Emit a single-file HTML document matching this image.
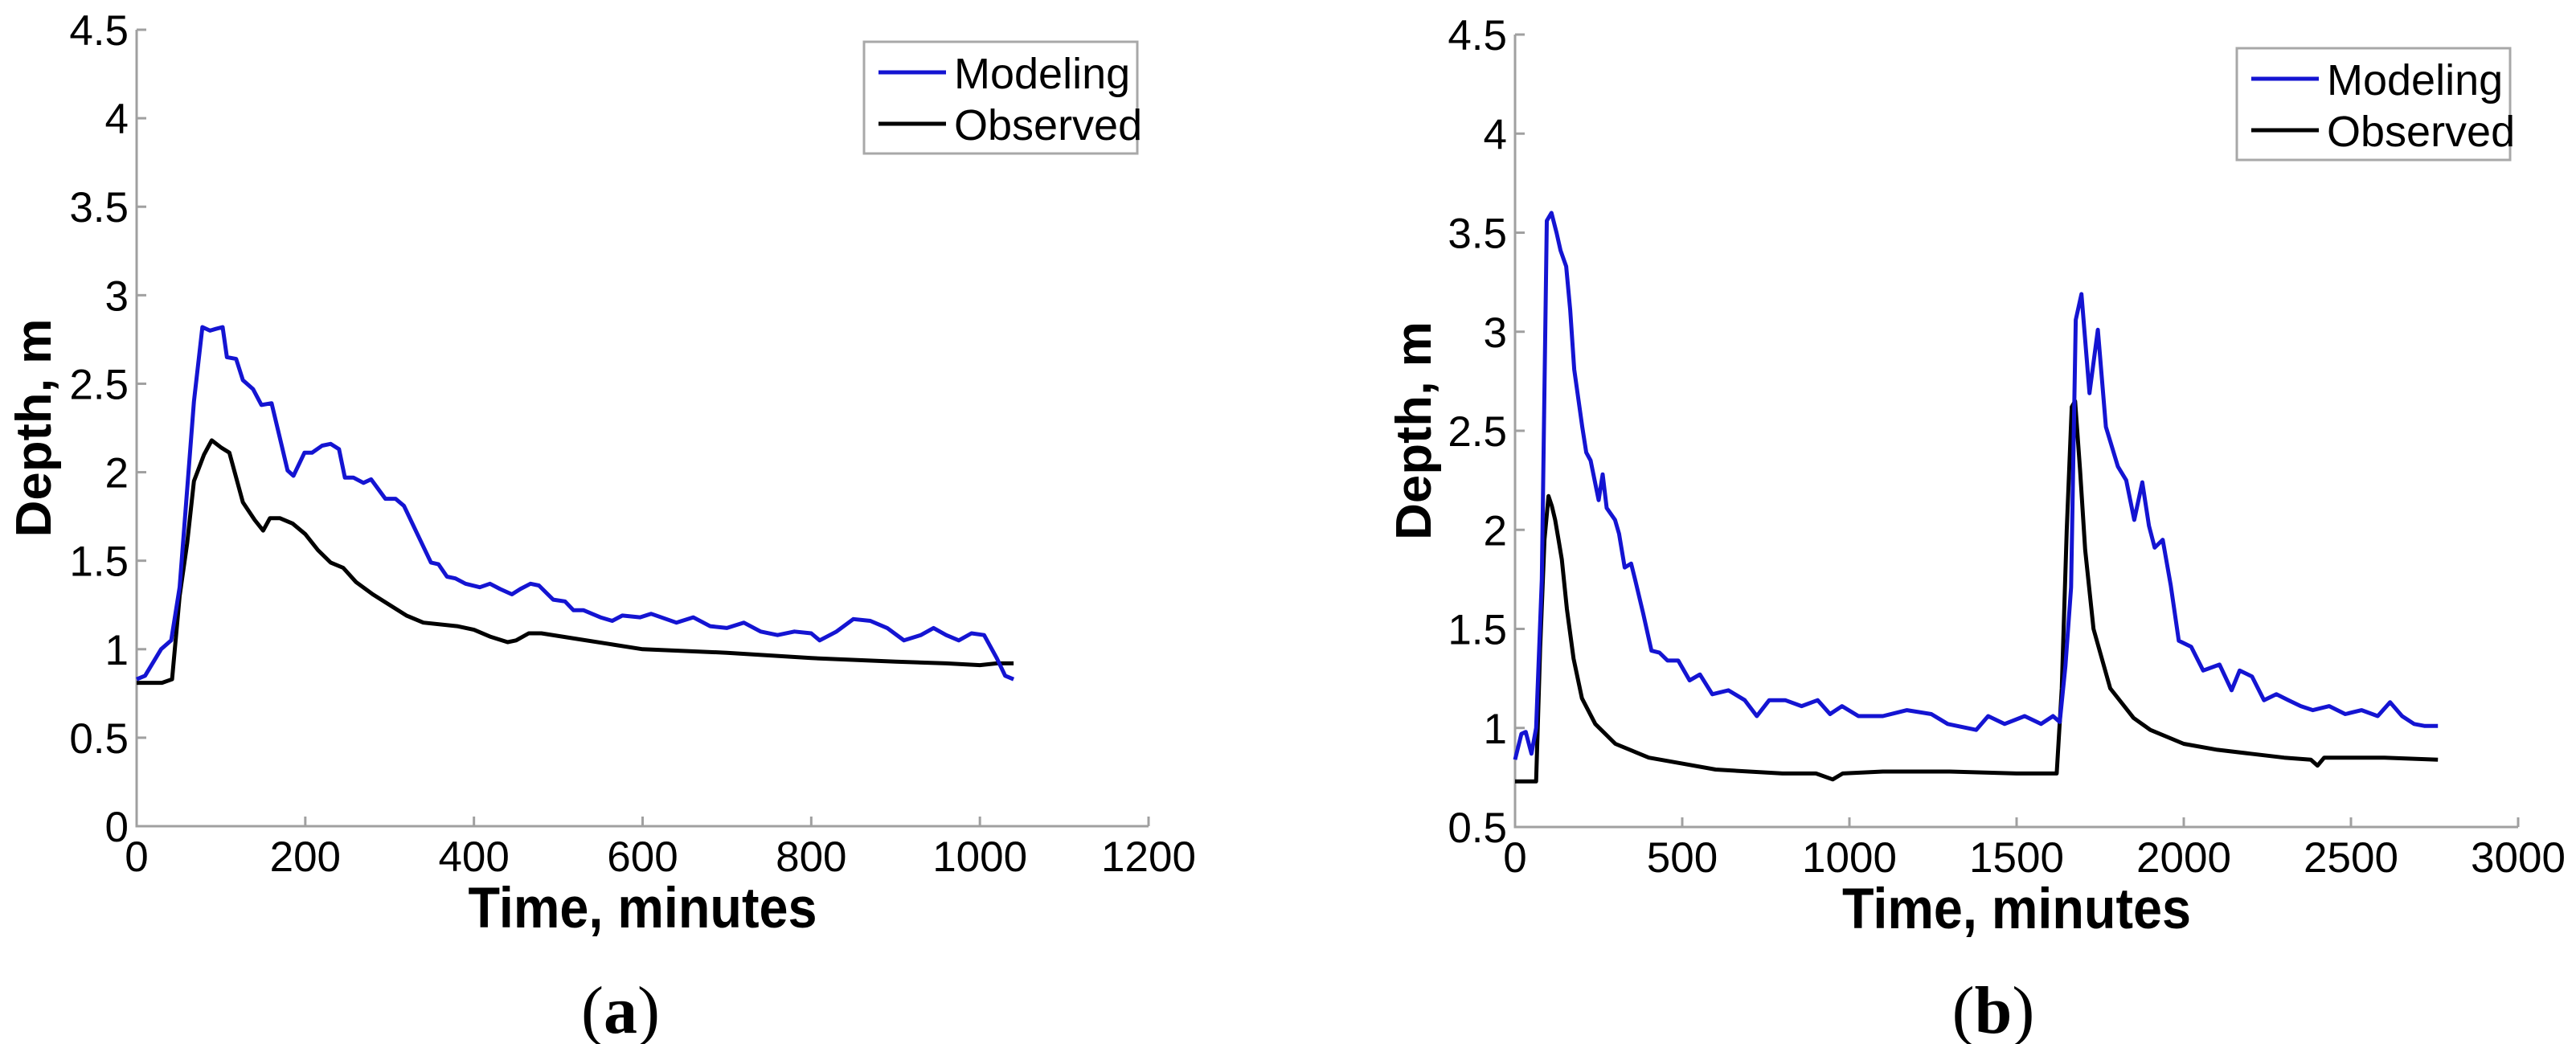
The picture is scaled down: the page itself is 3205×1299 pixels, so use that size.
<!DOCTYPE html>
<html><head><meta charset="utf-8"><style>
html,body{margin:0;padding:0;background:#fff;width:3205px;height:1299px;overflow:hidden}
svg{display:block}
text{font-family:"Liberation Sans",Arial,sans-serif;fill:#000}
</style></head><body>
<svg id="fig" width="3205" height="1299" viewBox="0 0 3205 1299" xmlns="http://www.w3.org/2000/svg"></svg>
<script>
// ---- Panel (a) data ----
const aModX = [0,10,29,41,51,68,78,87,94,102,107,118,126,138,148,160,172,179,186,199,208,220,230,240,247,257,269,278,295,307,317,332,349,358,368,378,390,407,419,431,445,455,467,477,494,508,518,530,550,564,576,597,610,640,660,680,700,720,740,760,780,800,810,830,850,870,890,910,930,945,960,975,990,1005,1020,1030,1040];
const aModY = [0.83,0.85,1.0,1.05,1.35,2.4,2.82,2.80,2.81,2.82,2.65,2.64,2.52,2.47,2.38,2.39,2.15,2.01,1.98,2.11,2.11,2.15,2.16,2.13,1.97,1.97,1.94,1.96,1.85,1.85,1.81,1.66,1.49,1.48,1.41,1.40,1.37,1.35,1.37,1.34,1.31,1.34,1.37,1.36,1.28,1.27,1.22,1.22,1.18,1.16,1.19,1.18,1.2,1.15,1.18,1.13,1.12,1.15,1.1,1.08,1.1,1.09,1.05,1.1,1.17,1.16,1.12,1.05,1.08,1.12,1.08,1.05,1.09,1.08,0.95,0.85,0.83];
const aObsX = [0,30,42,51,60,68,80,89,100,110,126,140,150,158,170,185,200,215,230,245,260,280,300,320,340,380,400,420,440,450,465,480,520,560,600,700,800,900,960,1000,1020,1040];
const aObsY = [0.81,0.81,0.83,1.3,1.6,1.95,2.1,2.18,2.14,2.11,1.83,1.73,1.67,1.74,1.74,1.71,1.65,1.56,1.49,1.46,1.38,1.31,1.25,1.19,1.15,1.13,1.11,1.07,1.04,1.05,1.09,1.09,1.06,1.03,1.0,0.98,0.95,0.93,0.92,0.91,0.92,0.92];
const aXTicks = [0,200,400,600,800,1000,1200];
const aYTicks = [0,0.5,1,1.5,2,2.5,3,3.5,4,4.5];
const aYTickLabels = ["0","0.5","1","1.5","2","2.5","3","3.5","4","4.5"];

// ---- Panel (b) data ----
const bModX = [0,19,32,49,63,80,95,109,124,136,153,165,177,201,213,226,238,250,262,274,299,311,328,347,359,383,408,432,456,488,522,553,590,638,687,723,760,808,857,905,942,978,1027,1100,1172,1245,1294,1379,1415,1464,1524,1573,1609,1629,1646,1663,1677,1694,1718,1743,1767,1803,1828,1852,1876,1896,1913,1937,1961,1985,2022,2058,2107,2143,2167,2204,2240,2277,2313,2350,2386,2435,2483,2532,2580,2617,2653,2689,2721,2760];
const bModY = [0.84,0.97,0.98,0.87,1.0,1.75,3.56,3.6,3.5,3.41,3.33,3.11,2.81,2.52,2.39,2.35,2.25,2.15,2.28,2.11,2.05,1.98,1.81,1.83,1.75,1.58,1.39,1.38,1.34,1.34,1.24,1.27,1.17,1.19,1.14,1.06,1.14,1.14,1.11,1.14,1.07,1.11,1.06,1.06,1.09,1.07,1.02,0.99,1.06,1.02,1.06,1.02,1.06,1.03,1.31,1.71,3.06,3.19,2.69,3.01,2.52,2.32,2.25,2.05,2.24,2.02,1.91,1.95,1.72,1.44,1.41,1.29,1.32,1.19,1.29,1.26,1.14,1.17,1.14,1.11,1.09,1.11,1.07,1.09,1.06,1.13,1.06,1.02,1.01,1.01];
const bObsX = [0,63,75,88,100,110,120,130,140,155,175,200,240,300,400,500,600,700,800,900,950,980,1100,1300,1500,1620,1635,1650,1665,1675,1690,1705,1730,1780,1850,1900,2000,2100,2200,2300,2380,2400,2420,2500,2600,2760];
const bObsY = [0.73,0.73,1.4,1.95,2.17,2.12,2.05,1.95,1.85,1.6,1.35,1.15,1.02,0.92,0.85,0.82,0.79,0.78,0.77,0.77,0.74,0.77,0.78,0.78,0.77,0.77,1.2,2.0,2.62,2.65,2.3,1.9,1.5,1.2,1.05,0.99,0.92,0.89,0.87,0.85,0.84,0.81,0.85,0.85,0.85,0.84];
const bXTicks = [0,500,1000,1500,2000,2500,3000];
const bYTicks = [0.5,1,1.5,2,2.5,3,3.5,4,4.5];
const bYTickLabels = ["0.5","1","1.5","2","2.5","3","3.5","4","4.5"];

const NS = "http://www.w3.org/2000/svg";
const svg = document.getElementById('fig');
function mk(tag, attrs, parent){
  const e = document.createElementNS(NS, tag);
  for (const k in attrs) e.setAttribute(k, attrs[k]);
  (parent||svg).appendChild(e);
  return e;
}

function panel(cfg){
  const g = mk('g', {});
  
  
  const sx = v => cfg.x0 + (v - cfg.xmin) / (cfg.xmax - cfg.xmin) * (cfg.x1 - cfg.x0);
  const sy = v => cfg.y0 - (v - cfg.ymin) / (cfg.ymax - cfg.ymin) * (cfg.y0 - cfg.y1);

  const ax = mk('path', {d:`M${cfg.x0},${cfg.y1} V${cfg.y0} H${cfg.x1}`, fill:'none', stroke:'#a0a0a0', 'stroke-width':3}, g);
  
  

  cfg.xTicks.forEach(t => {
    const x = sx(t);
    const tk = mk('line', {x1:x, x2:x, y1:cfg.y0, y2:cfg.y0-12, stroke:'#a0a0a0', 'stroke-width':3}, g);
    
    
    const lb = mk('text', {x:x, y:cfg.y0+56, 'text-anchor':'middle', 'font-size':53}, g);
    lb.textContent = String(t);
    
    
  });
  cfg.yTicks.forEach((t, i) => {
    const y = sy(t);
    const tk = mk('line', {x1:cfg.x0, x2:cfg.x0+12, y1:y, y2:y, stroke:'#a0a0a0', 'stroke-width':3}, g);
    
    
    const lb = mk('text', {x:cfg.x0-10, y:y+19, 'text-anchor':'end', 'font-size':53}, g);
    lb.textContent = cfg.yLabels[i];
    
    
  });

  function line(xs, ys, color, name){
    let d = '';
    xs.forEach((v, i) => { d += (i ? 'L' : 'M') + sx(v).toFixed(1) + ',' + sy(ys[i]).toFixed(1); });
    const p = mk('path', {d:d, fill:'none', stroke:color, 'stroke-width':5, 'stroke-linejoin':'round'}, g);
    
    
  }
  line(cfg.obsX, cfg.obsY, '#000000', 'observed-line');
  line(cfg.modX, cfg.modY, '#1414d2', 'modeling-line');

  const xt = mk('text', {x:(cfg.x0+cfg.x1)/2, y:cfg.y0+126, 'text-anchor':'middle', 'font-size':71, 'font-weight':'bold', textLength:434, lengthAdjust:'spacingAndGlyphs'}, g);
  xt.textContent = 'Time, minutes';
  
  
  const yc = (cfg.y0+cfg.y1)/2;
  const yt = mk('text', {x:cfg.ytx, y:yc, 'text-anchor':'middle', 'font-size':62, 'font-weight':'bold', textLength:272, lengthAdjust:'spacingAndGlyphs', transform:`rotate(-90 ${cfg.ytx} ${yc})`}, g);
  yt.textContent = 'Depth, m';
  
  

  const L = cfg.legX, T = cfg.legY;
  const lg = mk('g', {}, g);
  
  
  mk('rect', {x:L, y:T, width:340, height:139, fill:'#fff', stroke:'#a8a8a8', 'stroke-width':3}, lg);
  const e1 = mk('line', {x1:L+18, x2:L+102, y1:T+38, y2:T+38, stroke:'#1414d2', 'stroke-width':5}, lg);
  
  
  const t1 = mk('text', {x:L+112, y:T+58, 'font-size':54}, lg);
  t1.textContent = 'Modeling';
  
  
  const e2 = mk('line', {x1:L+18, x2:L+102, y1:T+102, y2:T+102, stroke:'#000', 'stroke-width':5}, lg);
  
  
  const t2 = mk('text', {x:L+112, y:T+122, 'font-size':54}, lg);
  t2.textContent = 'Observed';
  
  

  const cap = mk('text', {x:cfg.capX, y:1285, 'text-anchor':'middle', 'font-size':84, style:'font-family:"Liberation Serif",serif'}, g);
  cap.innerHTML = '(<tspan font-weight="bold">' + cfg.cap + '</tspan>)';
  
  
}

panel({name:'panel-a', x0:170, x1:1429, y0:1028, y1:37, xmin:0, xmax:1200, ymin:0, ymax:4.5,
  xTicks:aXTicks, yTicks:aYTicks, yLabels:aYTickLabels,
  modX:aModX, modY:aModY, obsX:aObsX, obsY:aObsY, ytx:63, legX:1075, legY:52, capX:772, cap:'a'});
panel({name:'panel-b', x0:1885, x1:3133, y0:1029, y1:43, xmin:0, xmax:3000, ymin:0.5, ymax:4.5,
  xTicks:bXTicks, yTicks:bYTicks, yLabels:bYTickLabels,
  modX:bModX, modY:bModY, obsX:bObsX, obsY:bObsY, ytx:1780, legX:2783, legY:60, capX:2480, cap:'b'});
</script>
</body></html>
